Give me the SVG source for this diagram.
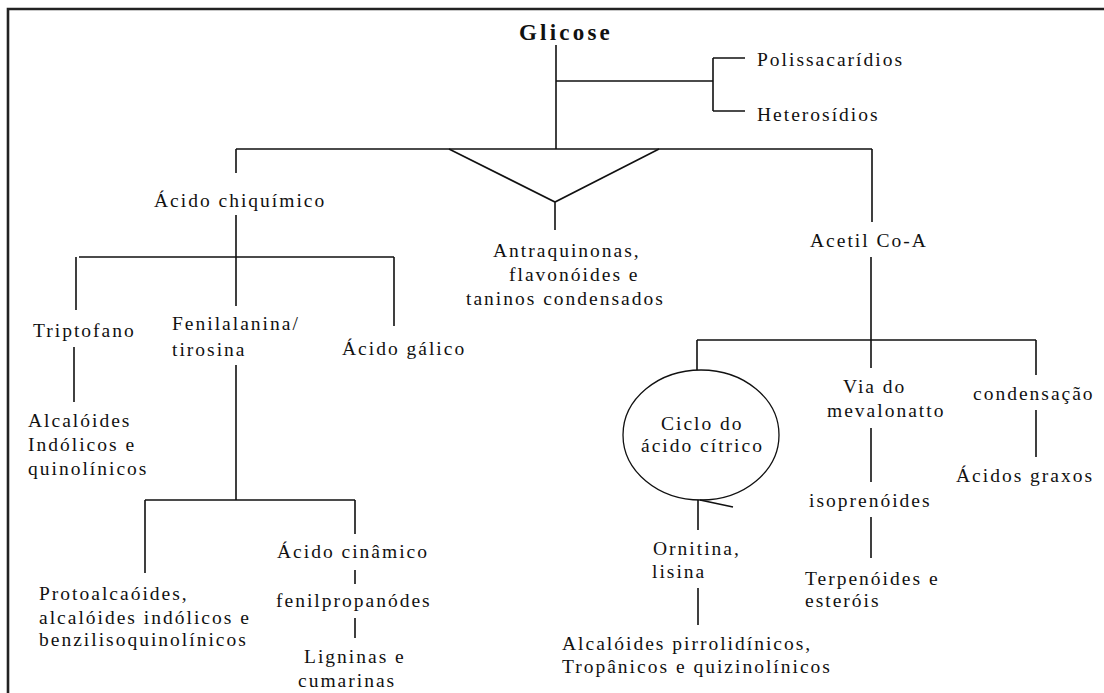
<svg xmlns="http://www.w3.org/2000/svg" width="1104" height="693" viewBox="0 0 1104 693">
<style>
.t{font-family:"Liberation Serif","Times New Roman",serif;font-size:19.5px;letter-spacing:2px;fill:#111}
.b{font-family:"Liberation Serif","Times New Roman",serif;font-size:23px;font-weight:bold;letter-spacing:3.2px;fill:#111}
.c path{stroke:#111;stroke-width:1.6;fill:none}
</style>
<rect width="1104" height="693" fill="#fff"/>
<path d="M8 693 V9 H1104" stroke="#222" stroke-width="2.6" fill="none"/>
<g class="c" id="connectors">
<path d="M556 45 V149"/>
<path d="M556 81 H713 M713 58 V111 M713 58 H745 M713 111 H745"/>
<path d="M236 149 H872 M236 149 V173 M872 149 V222"/>
<path d="M449 149 L555 202 L659 149 M555 202 V230"/>
<path d="M236 215 V306 M79 257 H394 M76 257 V310 M394 257 V326"/>
<path d="M74 347 V402"/>
<path d="M236 365 V500 M145 500 H355 M145 500 V573 M355 500 V534 M355 570 V584 M355 618 V638"/>
<path d="M871 257 V340 M697 340 H1036 M697 340 V370 M871 340 V368 M1036 340 V375"/>
<path d="M871 428 V482 M871 517 V558 M1036 410 V457"/>
<path d="M698 500 V530 M698 588 V625 M700 500 L733 507"/>
</g>
<g id="glicose"><text class="b" x="566" y="40" text-anchor="middle">Glicose</text></g>
<g id="polissacaridios"><text class="t" x="757" y="66">Polissacarídios</text></g>
<g id="heterosidios"><text class="t" x="757" y="121">Heterosídios</text></g>
<g id="acido-chiquimico"><text class="t" x="154" y="207">Ácido chiquímico</text></g>
<g id="antraquinonas"><text class="t" x="493" y="257">Antraquinonas,</text><text class="t" x="509" y="281">flavonóides e</text><text class="t" x="466" y="305">taninos condensados</text></g>
<g id="acetil"><text class="t" x="810" y="247">Acetil Co-A</text></g>
<g id="triptofano"><text class="t" x="33" y="337">Triptofano</text></g>
<g id="fenilalanina"><text class="t" x="172" y="330">Fenilalanina/</text><text class="t" x="172" y="356">tirosina</text></g>
<g id="acido-galico"><text class="t" x="342" y="355">Ácido gálico</text></g>
<g id="alcaloides-indolicos"><text class="t" x="28" y="427">Alcalóides</text><text class="t" x="28" y="451">Indólicos e</text><text class="t" x="28" y="475">quinolínicos</text></g>
<g id="ciclo"><ellipse cx="701" cy="435" rx="78" ry="65" fill="none" stroke="#111" stroke-width="1.3"/><text class="t" x="661" y="430">Ciclo do</text><text class="t" x="641" y="452">ácido cítrico</text></g>
<g id="via-mevalonato"><text class="t" x="843" y="393">Via do</text><text class="t" x="827" y="417">mevalonatto</text></g>
<g id="condensacao"><text class="t" x="973" y="400">condensação</text></g>
<g id="isoprenoides"><text class="t" x="809" y="507">isoprenóides</text></g>
<g id="acidos-graxos"><text class="t" x="956" y="482">Ácidos graxos</text></g>
<g id="ornitina"><text class="t" x="653" y="555">Ornitina,</text><text class="t" x="652" y="578">lisina</text></g>
<g id="terpenoides"><text class="t" x="805" y="585">Terpenóides e</text><text class="t" x="805" y="607">esteróis</text></g>
<g id="alcaloides-pirrolidinicos"><text class="t" x="562" y="650">Alcalóides pirrolidínicos,</text><text class="t" x="562" y="673">Tropânicos e quizinolínicos</text></g>
<g id="protoalcaloides"><text class="t" x="39" y="600">Protoalcaóides,</text><text class="t" x="39" y="624">alcalóides indólicos e</text><text class="t" x="39" y="646">benzilisoquinolínicos</text></g>
<g id="acido-cinamico"><text class="t" x="277" y="558">Ácido cinâmico</text></g>
<g id="fenilpropanoides"><text class="t" x="276" y="607">fenilpropanódes</text></g>
<g id="ligninas"><text class="t" x="304" y="663">Ligninas e</text><text class="t" x="298" y="687">cumarinas</text></g>
</svg>
